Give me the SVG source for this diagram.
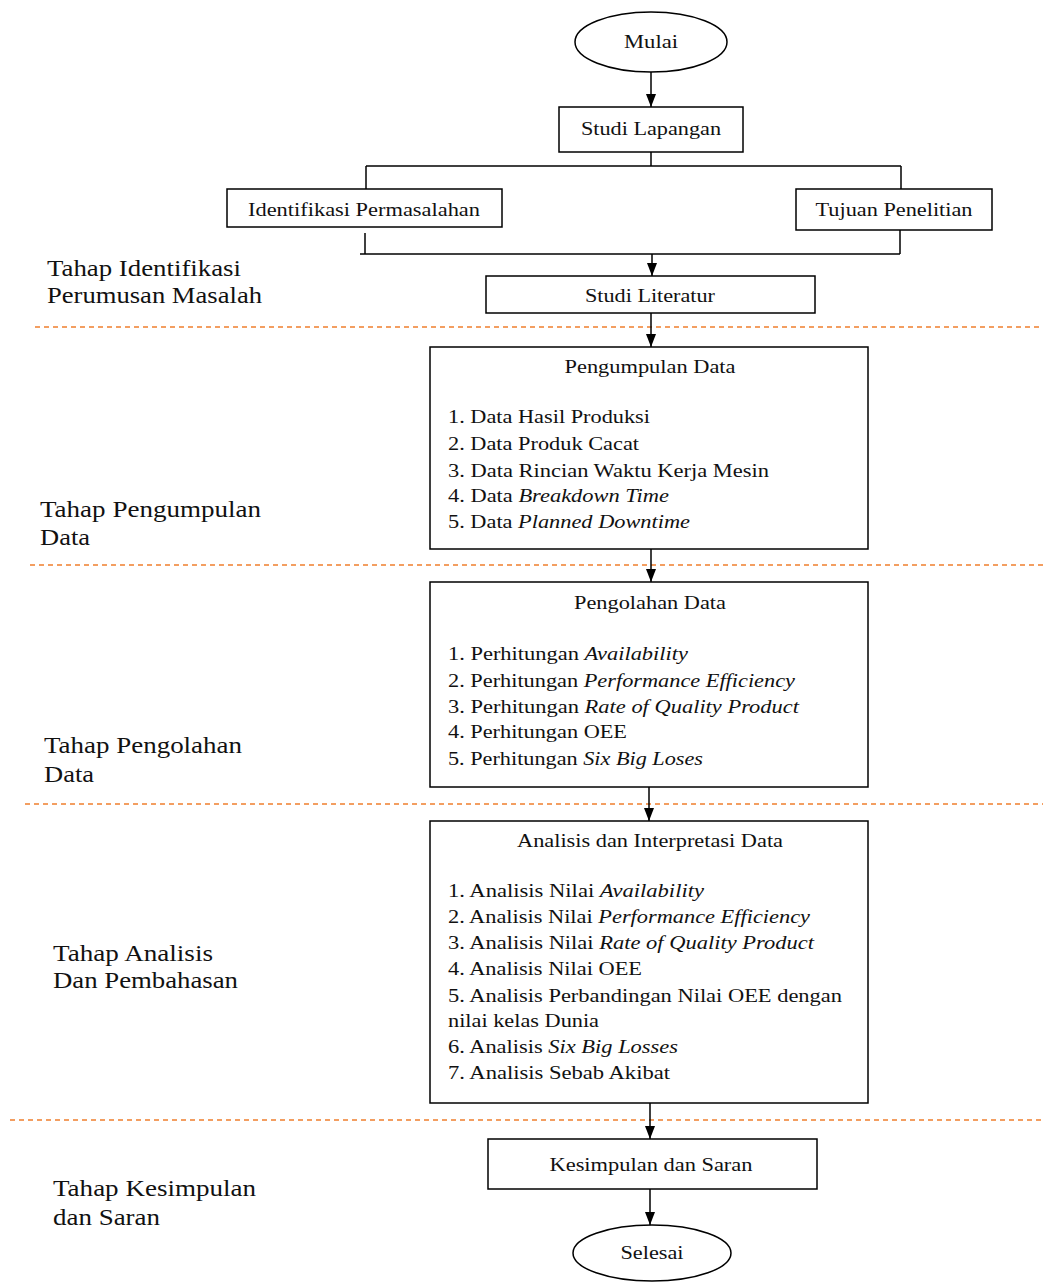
<svg xmlns="http://www.w3.org/2000/svg" width="1043" height="1282" viewBox="0 0 1043 1282">
<style>
.box{fill:#fff;stroke:#000;stroke-width:1.5}
.t{font-family:"Liberation Serif","Times New Roman",serif;font-size:19px;fill:#111}
.c{text-anchor:middle}
.lbl{font-family:"Liberation Serif","Times New Roman",serif;font-size:24px;fill:#111}
.i{font-style:italic}
.ln{stroke:#000;stroke-width:1.5;fill:none}
.dash{stroke:#F07F2E;stroke-width:1.5;stroke-dasharray:5 4;fill:none}
</style>
<defs>
<marker id="ah" markerUnits="userSpaceOnUse" markerWidth="14" markerHeight="12" refX="13" refY="5" orient="auto">
<path d="M0,0 L13,5 L0,10 Z" fill="#000"/>
</marker>
</defs>
<rect width="1043" height="1282" fill="#fff"/>

<g id="dividers">
<line class="dash" x1="35" y1="327" x2="1043" y2="327"/>
<line class="dash" x1="30" y1="565" x2="1043" y2="565"/>
<line class="dash" x1="25" y1="804" x2="1043" y2="804"/>
<line class="dash" x1="10" y1="1120" x2="1043" y2="1120"/>
</g>

<g id="stage-labels">
<text class="lbl" x="47" y="276" textLength="194" lengthAdjust="spacingAndGlyphs">Tahap Identifikasi</text>
<text class="lbl" x="47" y="303" textLength="215" lengthAdjust="spacingAndGlyphs">Perumusan Masalah</text>
<text class="lbl" x="40" y="517" textLength="221" lengthAdjust="spacingAndGlyphs">Tahap Pengumpulan</text>
<text class="lbl" x="40" y="545" textLength="50" lengthAdjust="spacingAndGlyphs">Data</text>
<text class="lbl" x="44" y="753" textLength="198" lengthAdjust="spacingAndGlyphs">Tahap Pengolahan</text>
<text class="lbl" x="44" y="782" textLength="50" lengthAdjust="spacingAndGlyphs">Data</text>
<text class="lbl" x="53" y="961" textLength="160" lengthAdjust="spacingAndGlyphs">Tahap Analisis</text>
<text class="lbl" x="53" y="988" textLength="185" lengthAdjust="spacingAndGlyphs">Dan Pembahasan</text>
<text class="lbl" x="53" y="1196" textLength="203" lengthAdjust="spacingAndGlyphs">Tahap Kesimpulan</text>
<text class="lbl" x="53" y="1225" textLength="107" lengthAdjust="spacingAndGlyphs">dan Saran</text>
</g>

<g id="connectors">
<line class="ln" x1="651" y1="72" x2="651" y2="107" marker-end="url(#ah)"/>
<line class="ln" x1="651" y1="152" x2="651" y2="166"/>
<line class="ln" x1="366" y1="166" x2="901" y2="166"/>
<line class="ln" x1="366" y1="166" x2="366" y2="189"/>
<line class="ln" x1="901" y1="166" x2="901" y2="189"/>
<line class="ln" x1="365" y1="233" x2="365" y2="254"/>
<line class="ln" x1="900" y1="230" x2="900" y2="254"/>
<line class="ln" x1="360" y1="254" x2="900" y2="254"/>
<line class="ln" x1="652" y1="254" x2="652" y2="276" marker-end="url(#ah)"/>
<line class="ln" x1="651" y1="313" x2="651" y2="347" marker-end="url(#ah)"/>
<line class="ln" x1="651" y1="549" x2="651" y2="582" marker-end="url(#ah)"/>
<line class="ln" x1="649" y1="787" x2="649" y2="821" marker-end="url(#ah)"/>
<line class="ln" x1="650" y1="1103" x2="650" y2="1139" marker-end="url(#ah)"/>
<line class="ln" x1="650" y1="1189" x2="650" y2="1225" marker-end="url(#ah)"/>
</g>

<g id="mulai">
<ellipse class="box" cx="651" cy="42" rx="76" ry="30"/>
<text class="t c" x="651" y="48" textLength="54" lengthAdjust="spacingAndGlyphs">Mulai</text>
</g>

<g id="studi-lapangan">
<rect class="box" x="559" y="107" width="184" height="45"/>
<text class="t c" x="651" y="135" textLength="140" lengthAdjust="spacingAndGlyphs">Studi Lapangan</text>
</g>

<g id="identifikasi">
<rect class="box" x="227" y="189" width="275" height="38"/>
<text class="t c" x="364" y="216" textLength="232" lengthAdjust="spacingAndGlyphs">Identifikasi Permasalahan</text>
</g>

<g id="tujuan">
<rect class="box" x="796" y="189" width="196" height="41"/>
<text class="t c" x="894" y="216" textLength="157" lengthAdjust="spacingAndGlyphs">Tujuan Penelitian</text>
</g>

<g id="studi-literatur">
<rect class="box" x="486" y="276" width="329" height="37"/>
<text class="t c" x="650" y="302" textLength="130" lengthAdjust="spacingAndGlyphs">Studi Literatur</text>
</g>

<g id="pengumpulan">
<rect class="box" x="430" y="347" width="438" height="202"/>
<text class="t c" x="650" y="373" textLength="171" lengthAdjust="spacingAndGlyphs">Pengumpulan Data</text>
<text class="t" x="448" y="423" textLength="202" lengthAdjust="spacingAndGlyphs">1. Data Hasil Produksi</text>
<text class="t" x="448" y="450" textLength="191" lengthAdjust="spacingAndGlyphs">2. Data Produk Cacat</text>
<text class="t" x="448" y="477" textLength="321" lengthAdjust="spacingAndGlyphs">3. Data Rincian Waktu Kerja Mesin</text>
<text class="t" x="448" y="502" textLength="221" lengthAdjust="spacingAndGlyphs">4. Data <tspan class="i">Breakdown Time</tspan></text>
<text class="t" x="448" y="528" textLength="242" lengthAdjust="spacingAndGlyphs">5. Data <tspan class="i">Planned Downtime</tspan></text>
</g>

<g id="pengolahan">
<rect class="box" x="430" y="582" width="438" height="205"/>
<text class="t c" x="650" y="609" textLength="152" lengthAdjust="spacingAndGlyphs">Pengolahan Data</text>
<text class="t" x="448" y="660" textLength="240" lengthAdjust="spacingAndGlyphs">1. Perhitungan <tspan class="i">Availability</tspan></text>
<text class="t" x="448" y="687" textLength="347" lengthAdjust="spacingAndGlyphs">2. Perhitungan <tspan class="i">Performance Efficiency</tspan></text>
<text class="t" x="448" y="713" textLength="351" lengthAdjust="spacingAndGlyphs">3. Perhitungan <tspan class="i">Rate of Quality Product</tspan></text>
<text class="t" x="448" y="738" textLength="179" lengthAdjust="spacingAndGlyphs">4. Perhitungan OEE</text>
<text class="t" x="448" y="765" textLength="255" lengthAdjust="spacingAndGlyphs">5. Perhitungan <tspan class="i">Six Big Loses</tspan></text>
</g>

<g id="analisis">
<rect class="box" x="430" y="821" width="438" height="282"/>
<text class="t c" x="650" y="847" textLength="266" lengthAdjust="spacingAndGlyphs">Analisis dan Interpretasi Data</text>
<text class="t" x="448" y="897" textLength="256" lengthAdjust="spacingAndGlyphs">1. Analisis Nilai <tspan class="i">Availability</tspan></text>
<text class="t" x="448" y="923" textLength="362" lengthAdjust="spacingAndGlyphs">2. Analisis Nilai <tspan class="i">Performance Efficiency</tspan></text>
<text class="t" x="448" y="949" textLength="366" lengthAdjust="spacingAndGlyphs">3. Analisis Nilai <tspan class="i">Rate of Quality Product</tspan></text>
<text class="t" x="448" y="975" textLength="194" lengthAdjust="spacingAndGlyphs">4. Analisis Nilai OEE</text>
<text class="t" x="448" y="1002" textLength="394" lengthAdjust="spacingAndGlyphs">5. Analisis Perbandingan Nilai OEE dengan</text>
<text class="t" x="448" y="1027" textLength="151" lengthAdjust="spacingAndGlyphs">nilai kelas Dunia</text>
<text class="t" x="448" y="1053" textLength="230" lengthAdjust="spacingAndGlyphs">6. Analisis <tspan class="i">Six Big Losses</tspan></text>
<text class="t" x="448" y="1079" textLength="222" lengthAdjust="spacingAndGlyphs">7. Analisis Sebab Akibat</text>
</g>

<g id="kesimpulan">
<rect class="box" x="488" y="1139" width="329" height="50"/>
<text class="t c" x="651" y="1171" textLength="203" lengthAdjust="spacingAndGlyphs">Kesimpulan dan Saran</text>
</g>

<g id="selesai">
<ellipse class="box" cx="652" cy="1253" rx="79" ry="28"/>
<text class="t c" x="652" y="1259" textLength="63" lengthAdjust="spacingAndGlyphs">Selesai</text>
</g>
</svg>
